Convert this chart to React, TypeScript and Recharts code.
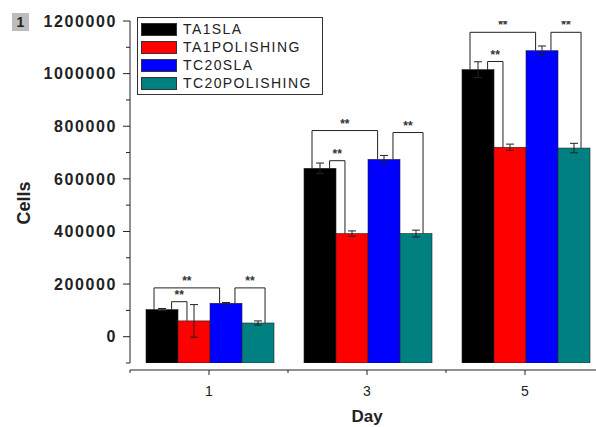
import React from "react";
import { Bar, BarChart, Label, Legend, XAxis, YAxis } from "recharts";

const FLOOR = -100000;

const days = ["1", "3", "5"];
const seriesNames = ["TA1SLA", "TA1POLISHING", "TC20SLA", "TC20POLISHING"];
const seriesColors = ["#000000", "#ff0000", "#0000ff", "#008080"];

const ta1Sla = [103000, 640000, 1015000];
const ta1SlaErr = [4000, 20000, 30000];
const ta1Pol = [60000, 392000, 720000];
const ta1PolErr = [62000, 10000, 12000];
const tc20Sla = [127000, 674000, 1087000];
const tc20SlaErr = [3000, 15000, 18000];
const tc20Pol = [52000, 392000, 717000];
const tc20PolErr = [8000, 13000, 18000];

const yTicks = [-100000, 0, 100000, 200000, 300000, 400000, 500000, 600000, 700000, 800000, 900000, 1000000, 1100000, 1200000];

// significance brackets: day index, bar from, bar to, level of the bracket
const bracketDay = [0, 0, 0, 1, 1, 1, 2, 2, 2];
const bracketFrom = [0, 0, 2, 0, 0, 2, 0, 0, 2];
const bracketTo = [2, 1, 3, 2, 1, 3, 2, 1, 3];
const bracketLevel = [185500, 133000, 185500, 783600, 669000, 776000, 1157000, 1046000, 1157000];

const values = [ta1Sla, ta1Pol, tc20Sla, tc20Pol];
const errors = [ta1SlaErr, ta1PolErr, tc20SlaErr, tc20PolErr];

const rows = days.map((day, i) => ({
  day,
  v: values.map((s) => s[i]),
  e: errors.map((s) => s[i]),
}));

// where a bracket leg sits inside its bar (fraction of bar width)
const legInset: Record<string, [number, number]> = {
  "0-2": [0.25, 0.3],
  "0-1": [0.8, 0.28],
  "2-3": [0.78, 0.72],
};

const ink = "#222";
const font = "Liberation Sans, Arial, sans-serif";

function makeShape(k: number) {
  return (props: any) => {
    const { x, y, width, height, payload, index } = props;
    const value = payload.v[k];
    const unit = height / (value - FLOOR);
    const baseY = y + height;
    const yOf = (v: number) => baseY - (v - FLOOR) * unit;
    const cx = x + width / 2;
    const err = payload.e[k];
    const top = yOf(value + err);
    const bottom = yOf(value - err);

    const brackets: React.ReactNode[] = [];
    if (k === values.length - 1) {
      bracketDay.forEach((d, b) => {
        if (d !== index) return;
        const from = bracketFrom[b];
        const to = bracketTo[b];
        const [fi, ti] = legInset[`${from}-${to}`];
        const x1 = x - (k - from) * width + fi * width;
        const x2 = x - (k - to) * width + ti * width;
        const ly = yOf(bracketLevel[b]);
        const y1 = yOf(payload.v[from]);
        const y2 = yOf(payload.v[to]);
        brackets.push(
          <g key={b}>
            <polyline points={`${x1},${y1} ${x1},${ly} ${x2},${ly} ${x2},${y2}`} fill="none" stroke={ink} strokeWidth={1} />
            <text x={(x1 + x2) / 2} y={ly - 3} textAnchor="middle" fontSize={12} fontWeight="bold" fill="#333" fontFamily={font}>
              **
            </text>
          </g>
        );
      });
    }

    return (
      <g>
        <rect x={x} y={y} width={width} height={height} fill={seriesColors[k]} stroke={ink} strokeWidth={0.6} />
        <line x1={cx} x2={cx} y1={top} y2={bottom} stroke={ink} strokeWidth={1} />
        <line x1={cx - 4} x2={cx + 4} y1={top} y2={top} stroke={ink} strokeWidth={1} />
        <line x1={cx - 4} x2={cx + 4} y1={bottom} y2={bottom} stroke={ink} strokeWidth={1} />
        {brackets}
      </g>
    );
  };
}

function YTick(props: any) {
  const { x, y, payload } = props;
  const v = payload.value;
  const major = v >= 0 && v % 200000 === 0;
  return (
    <g>
      <line x1={x - (major ? 7 : 4)} x2={x} y1={y} y2={y} stroke={ink} strokeWidth={1} />
      {major && (
        <text x={x - 13} y={y} dy="0.36em" textAnchor="end" fontSize={16} fontWeight="bold" letterSpacing={1.6} fill={ink} fontFamily={font}>
          {v}
        </text>
      )}
    </g>
  );
}

function XTick(props: any) {
  const { x, y, payload } = props;
  const half = payload.offset || 79;
  const ay = y + 7;
  return (
    <g>
      <line x1={x - half} x2={x + half} y1={ay} y2={ay} stroke={ink} strokeWidth={1} />
      <line x1={x} x2={x} y1={ay} y2={ay + 5} stroke={ink} strokeWidth={1} />
      <line x1={x - half} x2={x - half} y1={ay} y2={ay + 3} stroke={ink} strokeWidth={1} />
      <text x={x} y={y + 33} textAnchor="middle" fontSize={14} fill={ink} fontFamily={font}>
        {payload.value}
      </text>
    </g>
  );
}

function LegendBox() {
  return (
    <div style={{ border: "1px solid #333", background: "#fff", padding: "2px 3px", fontFamily: font }}>
      {seriesNames.map((name, i) => (
        <div key={name} style={{ display: "flex", alignItems: "center", height: 18 }}>
          <span style={{ display: "inline-block", width: 36, height: 13, background: seriesColors[i], border: "1px solid #333", boxSizing: "border-box" }} />
          <span style={{ marginLeft: 6, fontSize: 14, letterSpacing: 1.4, color: ink, whiteSpace: "nowrap" }}>{name}</span>
        </div>
      ))}
    </div>
  );
}

export default function App() {
  return (
    <div style={{ position: "absolute", left: 0, top: 0, width: 596, height: 427, overflow: "hidden", background: "#fff" }}>
      <BarChart width={610} height={427} data={rows} margin={{ top: 21, right: 6, left: 0, bottom: 0 }} barCategoryGap={16} barGap={0}>
        <XAxis dataKey="day" axisLine={false} tickLine={false} tickSize={0} tickMargin={0} height={64} interval={0} tick={<XTick />}>
          <Label value="Day" position="insideBottom" offset={5} style={{ fontSize: 17, fontWeight: "bold", fill: ink, fontFamily: font }} />
        </XAxis>
        <YAxis
          type="number"
          domain={[FLOOR, 1200000]}
          allowDataOverflow
          ticks={yTicks}
          interval={0}
          width={130}
          tickSize={0}
          tickMargin={0}
          tickLine={false}
          axisLine={{ stroke: ink, strokeWidth: 1 }}
          tick={<YTick />}
        >
          <Label
            content={() => (
              <text x={24} y={203} transform="rotate(-90, 24, 203)" textAnchor="middle" dominantBaseline="central" fontSize={18} fontWeight="bold" fill={ink} fontFamily={font}>
                Cells
              </text>
            )}
          />
        </YAxis>
        <Legend layout="vertical" align="center" verticalAlign="middle" wrapperStyle={{ left: 137, top: 17, width: 186 }} content={() => <LegendBox />} />
        {seriesNames.map((name, k) => (
          <Bar key={name} name={name} dataKey={(r: any) => [FLOOR, r.v[k]]} fill={seriesColors[k]} shape={makeShape(k)} isAnimationActive={false} />
        ))}
      </BarChart>
      <div style={{ position: "absolute", left: 12, top: 13, width: 17, height: 18, background: "#bdbdbd", color: ink, fontWeight: "bold", fontSize: 14, lineHeight: "18px", textAlign: "center", fontFamily: font }}>
        1
      </div>
    </div>
  );
}
